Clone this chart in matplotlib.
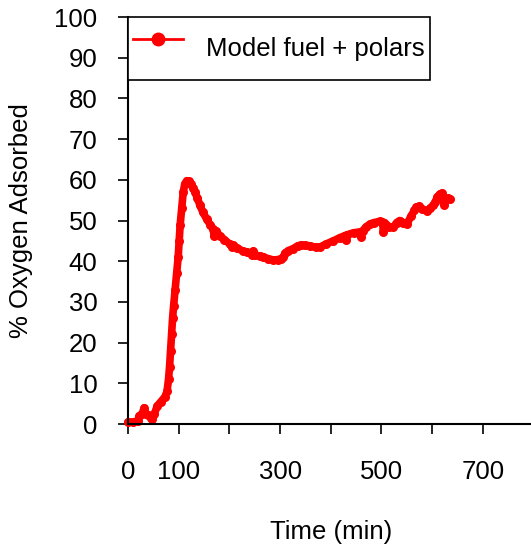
import matplotlib
matplotlib.use('Agg')
import matplotlib.pyplot as plt
from matplotlib.lines import Line2D

# data
time_min = [0, 10, 20, 22, 28, 32, 35, 40, 45, 48, 52, 58, 65, 73, 77, 80, 82, 84, 86,
            88, 90, 93, 96, 99, 101, 103, 106, 109, 112, 116, 120, 124, 128, 132, 137,
            142, 148, 155, 162, 168, 170, 173, 181, 190, 201, 205, 208, 215, 227, 235,
            245, 247, 250, 260, 267, 277, 287, 295, 302, 306, 310, 316, 326, 335, 342,
            350, 359, 370, 379, 390, 405, 418, 428, 430, 432, 445, 458, 460, 463, 470,
            477, 485, 497, 502, 504, 506, 515, 523, 530, 536, 543, 550, 558, 565, 569,
            575, 580, 589, 596, 602, 606, 610, 615, 619, 622, 624, 627, 632, 636]
oxygen = [0.5, 0.5, 0.8, 2.0, 2.5, 4.0, 2.5, 2.3, 1.5, 1.2, 2.5, 4.5, 5.5, 6.7, 8.0,
          11.0, 14.0, 18.0, 22.0, 26.0, 29.0, 33.0, 37.0, 41.0, 45.0, 49.0, 53.0, 57.0,
          59.0, 59.8, 59.6, 59.0, 58.0, 57.0, 55.5, 53.7, 52.0, 50.4, 49.0, 47.9, 46.3,
          47.5, 46.3, 45.3, 44.2, 43.5, 44.0, 43.2, 42.5, 42.2, 41.6, 42.5, 41.5, 41.3,
          41.1, 40.6, 40.3, 40.4, 40.6, 41.0, 42.0, 42.6, 43.1, 43.8, 44.0, 43.9, 43.8,
          43.4, 43.5, 44.2, 45.0, 45.8, 46.3, 45.2, 46.5, 47.0, 47.2, 46.0, 47.5, 48.5,
          49.1, 49.5, 49.8, 49.6, 47.2, 49.5, 48.5, 48.3, 49.5, 50.0, 49.5, 49.1, 51.0,
          52.5, 53.3, 53.5, 52.8, 52.4, 53.0, 53.7, 54.5, 55.8, 56.5, 56.7, 55.0, 53.8,
          55.2, 55.5, 55.2]
series_label = 'Model fuel + polars'
x_ticks = [0, 100, 200, 300, 400, 500, 600, 700]
x_tick_labels = ['0', '100', '', '300', '', '500', '', '700']
y_ticks = list(range(0, 101, 10))

plt.rcParams['font.family'] = ['Liberation Sans', 'DejaVu Sans']
plt.rcParams['font.size'] = 18.5

fig = plt.figure(figsize=(5.31, 5.46), dpi=100)
ax = fig.add_axes([0.241, 0.2234, 0.7638, 0.7454])

ax.plot(time_min, oxygen, color='red', lw=5.5, marker='o', markersize=6.5,
        markeredgewidth=0, solid_capstyle='round', solid_joinstyle='round', clip_on=False)

ax.set_xlim(0, 800)
ax.set_ylim(0, 100)
ax.set_xticks(x_ticks)
ax.set_xticklabels(x_tick_labels)
ax.set_yticks(y_ticks)
ax.tick_params(axis='x', direction='out', length=7, width=1.2, pad=19)
ax.tick_params(axis='y', direction='out', length=7, width=1.2, pad=15)
ax.spines['top'].set_visible(False)
ax.spines['right'].set_visible(False)
ax.spines['left'].set_linewidth(1.5)
ax.spines['bottom'].set_linewidth(1.5)

ax.set_xlabel('Time (min)', labelpad=26)
ax.set_ylabel('% Oxygen Adsorbed', labelpad=15)

handle = Line2D([], [], color='red', lw=2, marker='o', markersize=9)
leg = ax.legend([handle], [series_label], loc='upper left', bbox_to_anchor=(0, 1),
                borderaxespad=0, fancybox=False, framealpha=1, edgecolor='black',
                borderpad=0.2, handlelength=1.95, handleheight=2.75, handletextpad=0.9)
leg.get_frame().set_linewidth(1.2)

fig.savefig('out.png', dpi=100)
